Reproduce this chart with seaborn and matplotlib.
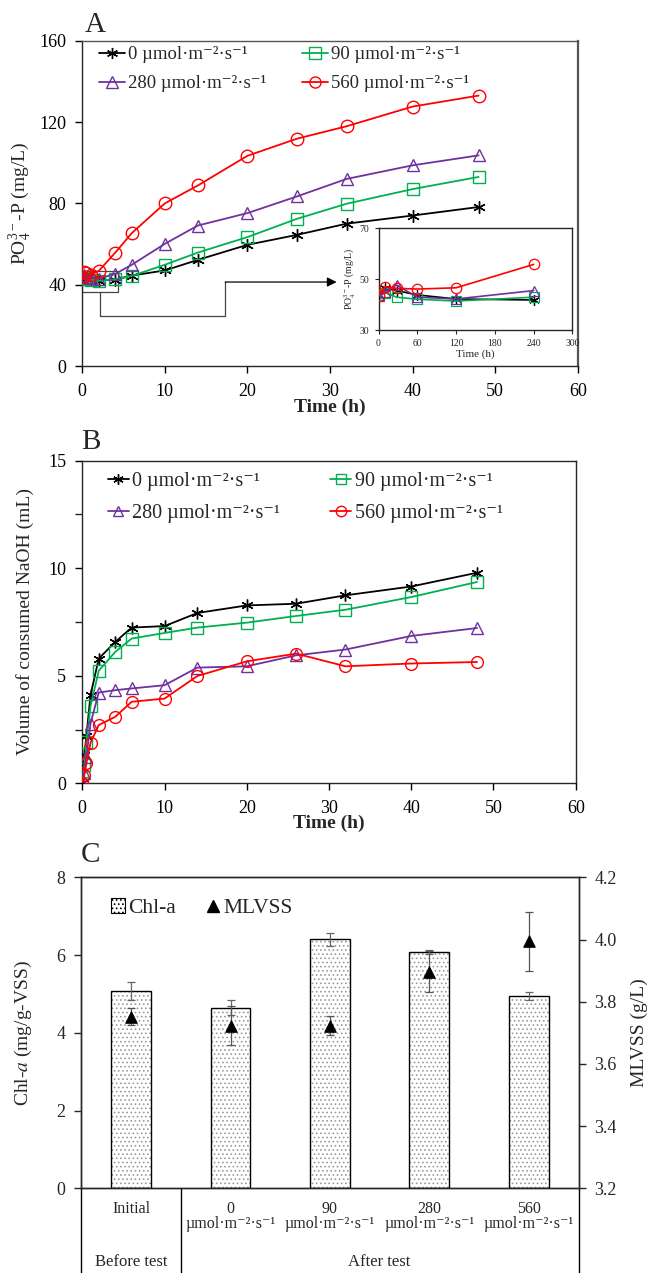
import numpy as np
import pandas as pd
import matplotlib
matplotlib.use("Agg")
import matplotlib.pyplot as plt
import matplotlib.colors as mcolors
from matplotlib.patches import Patch, Rectangle
from matplotlib.lines import Line2D
from matplotlib.ticker import MultipleLocator
import seaborn as sns

# ---------------- data ----------------
time_h = [0, 0.25, 0.5, 1, 2, 4, 6, 10, 14, 20, 26, 32, 40, 48]
series_labels = ["0 µmol·m⁻²·s⁻¹", "90 µmol·m⁻²·s⁻¹", "280 µmol·m⁻²·s⁻¹", "560 µmol·m⁻²·s⁻¹"]

# Panel A: PO4-P (mg/L)
po4_0 = [43.5, 44.0, 43.5, 43.0, 42.0, 42.5, 44.5, 47.0, 52.2, 59.6, 64.5, 70.0, 74.0, 78.2]
po4_90 = [43.5, 43.0, 43.5, 42.5, 41.9, 42.7, 44.3, 49.8, 55.8, 63.4, 72.4, 79.8, 87.0, 93.0]
po4_280 = [44.0, 45.0, 44.0, 43.5, 43.0, 45.3, 49.8, 60.1, 69.1, 75.2, 83.4, 92.0, 98.7, 103.6]
po4_560 = [44.0, 46.0, 45.5, 45.0, 46.8, 55.8, 65.4, 80.0, 88.8, 103.4, 111.8, 117.9, 127.6, 133.0]

# Inset: long-term PO4-P (mg/L)
inset_time_h = [0, 10, 28, 60, 120, 240]
inset_0 = [43.8, 46.4, 45.5, 43.8, 42.2, 41.8]
inset_90 = [43.8, 44.7, 42.9, 42.1, 41.4, 42.9]
inset_280 = [43.4, 45.1, 47.7, 42.9, 42.2, 45.5]
inset_560 = [43.4, 47.0, 46.4, 46.1, 46.6, 55.8]

# Panel B: consumed NaOH (mL)
naoh_0 = [0.0, 1.3, 2.2, 4.1, 5.8, 6.57, 7.24, 7.31, 7.92, 8.27, 8.35, 8.74, 9.15, 9.79]
naoh_90 = [0.0, 0.85, 1.93, 3.59, 5.23, 6.11, 6.73, 6.99, 7.24, 7.47, 7.78, 8.07, 8.66, 9.36]
naoh_280 = [0.0, 0.5, 1.24, 2.78, 4.22, 4.33, 4.41, 4.56, 5.38, 5.44, 5.95, 6.22, 6.85, 7.22]
naoh_560 = [0.0, 0.39, 0.93, 1.88, 2.71, 3.09, 3.79, 3.94, 4.99, 5.67, 6.03, 5.44, 5.57, 5.64]

# Panel C
c_categories = ["Initial", "0", "90", "280", "560"]
c_sublabels = ["", "µmol·m⁻²·s⁻¹", "µmol·m⁻²·s⁻¹", "µmol·m⁻²·s⁻¹", "µmol·m⁻²·s⁻¹"]
c_groups = ["Before test", "After test"]
chla = [5.08, 4.65, 6.41, 6.08, 4.95]
chla_err = [0.23, 0.19, 0.17, 0.06, 0.10]
mlvss = [3.752, 3.723, 3.723, 3.896, 3.995]
mlvss_err = [0.027, 0.062, 0.030, 0.066, 0.095]

# ---------------- style ----------------
sns.set_theme(style="ticks")
plt.rcParams["font.family"] = ["Liberation Serif", "DejaVu Serif"]
plt.rcParams["mathtext.fontset"] = "stix"
plt.rcParams["axes.linewidth"] = 1.0
plt.rcParams["xtick.direction"] = "out"
plt.rcParams["ytick.direction"] = "out"
plt.rcParams["hatch.linewidth"] = 0.7

colors = ["black", "#00B050", "#7030A0", "#FF0000"]
markers = [(6, 2, 0), "s", "^", "o"]

W, H = 649, 1273
fig = plt.figure(figsize=(W / 100, H / 100), dpi=100)


def fbox(l, r, t, b):
    return [l / W, 1 - b / H, (r - l) / W, (b - t) / H]


axA = fig.add_axes(fbox(82.3, 577.7, 40.7, 366))
axB = fig.add_axes(fbox(82.3, 575.7, 460.7, 783.3))
axC = fig.add_axes(fbox(81.4, 578.5, 877.3, 1188.3))
axI = fig.add_axes(fbox(378.5, 572.5, 228.3, 330))


def draw_lines(ax, x, ys, ms, mew, lw):
    handles = []
    for y, c, m, lab in zip(ys, colors, markers, series_labels):
        sns.lineplot(x=x, y=y, ax=ax, color=c, marker=m, markersize=ms,
                     markerfacecolor="none", markeredgecolor=c, markeredgewidth=mew,
                     linewidth=lw, label=lab, legend=False, zorder=3)
        handles.append(Line2D([0], [0], color=c, marker=m, markersize=ms - 1,
                              markerfacecolor="none", markeredgecolor=c,
                              markeredgewidth=mew, linewidth=lw))
    return handles


def main_ticks(ax):
    ax.tick_params(axis="x", labelsize=13, length=5, width=1, pad=7, colors="black")
    ax.tick_params(axis="y", labelsize=13, length=5, width=1, pad=6.5, colors="black")


po4_label = "PO$_4^{\\mathregular{3-}}$-P (mg/L)"

# ---------------- Panel A ----------------
hA = draw_lines(axA, time_h, [po4_0, po4_90, po4_280, po4_560], 9, 1.0, 1.3)
axA.set_xlim(0, 60)
axA.set_ylim(0, 160)
axA.xaxis.set_major_locator(MultipleLocator(10))
axA.yaxis.set_major_locator(MultipleLocator(40))
main_ticks(axA)
axA.set_xlabel("Time (h)", fontsize=14, fontweight="bold")
axA.set_ylabel(po4_label, fontsize=14)
axA.xaxis.set_label_coords(0.5, -0.1)
axA.yaxis.set_label_coords(-0.098, 0.5)
order = [0, 2, 1, 3]
axA.legend([hA[i] for i in order], [series_labels[i] for i in order], ncol=2,
           loc="upper left", bbox_to_anchor=(0.0, 1.035), frameon=False,
           fontsize=13.5, handlelength=1.4, handletextpad=0.15,
           columnspacing=1.9, labelspacing=0.62)
# zoom box and connector
axA.add_patch(Rectangle((0, 36.3), 4.27, 10.5, fill=False, edgecolor="#444444",
                        linewidth=0.9, zorder=1))
axA.plot([2.2, 2.2, 17.3, 17.3], [36.3, 24.5, 24.5, 41.3], color="#444444",
         linewidth=0.9, zorder=1)
axA.annotate("", xy=(30.8, 41.3), xytext=(17.3, 41.3),
             arrowprops=dict(arrowstyle="-|>", color="black", lw=0.9,
                             mutation_scale=14, shrinkA=0, shrinkB=0))
for s in ["right", "top"]:
    axA.spines[s].set_color("#555555")
axA.spines["right"].set_linewidth(1.6)
fig.text(95 / W, 1 - 25 / H, "A", fontsize=21, ha="center", va="center")

# ---------------- Inset ----------------
draw_lines(axI, inset_time_h, [inset_0, inset_90, inset_280, inset_560], 7.5, 0.9, 1.2)
axI.set_xlim(0, 300)
axI.set_ylim(30, 70)
axI.xaxis.set_major_locator(MultipleLocator(60))
axI.set_yticks([30, 50, 70])
axI.tick_params(labelsize=7, length=3, width=0.8)
axI.set_xlabel("Time (h)", fontsize=8, labelpad=1)
axI.set_ylabel(po4_label, fontsize=7, labelpad=1)
axI.set_facecolor("white")

# ---------------- Panel B ----------------
hB = draw_lines(axB, time_h, [naoh_0, naoh_90, naoh_280, naoh_560], 8.5, 1.0, 1.3)
axB.set_xlim(0, 60)
axB.set_ylim(0, 15)
axB.xaxis.set_major_locator(MultipleLocator(10))
axB.yaxis.set_major_locator(MultipleLocator(5))
axB.yaxis.set_minor_locator(MultipleLocator(2.5))
main_ticks(axB)
axB.tick_params(which="minor", length=5, width=1)
axB.set_xlabel("Time (h)", fontsize=14, fontweight="bold")
axB.set_ylabel("Volume of consumed NaOH (mL)", fontsize=14)
axB.xaxis.set_label_coords(0.5, -0.097)
axB.yaxis.set_label_coords(-0.098, 0.5)
axB.legend([hB[i] for i in order], [series_labels[i] for i in order], ncol=2,
           loc="upper left", bbox_to_anchor=(0.015, 1.02), frameon=False,
           fontsize=14.5, handlelength=1.05, handletextpad=0.15,
           columnspacing=2.5, labelspacing=0.6)
fig.text(91 / W, 1 - 442 / H, "B", fontsize=21, ha="center", va="center")

# ---------------- Panel C ----------------
dfC = pd.DataFrame({"cat": c_categories, "chla": chla})
sns.barplot(data=dfC, x="cat", y="chla", ax=axC, color="white", width=0.4,
            edgecolor="black", linewidth=1.0, errorbar=None, zorder=2)
hatch_rgba = mcolors.to_rgba("#9a9a9a")
for p in axC.patches:
    p.set_hatch("....")
    p._hatch_color = hatch_rgba
axC.errorbar(np.arange(len(chla)), chla, yerr=chla_err, fmt="none",
             ecolor="#666666", elinewidth=0.9, capsize=3, capthick=0.9, zorder=3)
axC.set_xlim(-0.5, 4.5)
axC.set_ylim(0, 8)
axC.yaxis.set_major_locator(MultipleLocator(2))
axC.tick_params(axis="y", labelsize=13, length=5, width=1, pad=6.5)
axC.tick_params(axis="x", length=0, labelbottom=False)
axC.set_xlabel("")
axC.set_ylabel("Chl-$\\mathit{a}$ (mg/g-VSS)", fontsize=14)
axC.yaxis.set_label_coords(-0.096, 0.5)

axC2 = axC.twinx()
sns.scatterplot(x=np.arange(len(mlvss)), y=mlvss, ax=axC2, marker="^", s=70,
                color="black", edgecolor="black", zorder=4, legend=False)
axC2.errorbar(np.arange(len(mlvss)), mlvss, yerr=mlvss_err, fmt="none",
              ecolor="#555555", elinewidth=0.9, capsize=3, capthick=0.9, zorder=3)
axC2.set_ylim(3.2, 4.2)
axC2.set_yticks([3.2, 3.4, 3.6, 3.8, 4.0, 4.2])
axC2.set_yticklabels(["3.2", "3.4", "3.6", "3.8", "4.0", "4.2"])
axC2.tick_params(axis="y", labelsize=13, length=5, width=1, pad=6.5)
axC2.set_ylabel("MLVSS (g/L)", fontsize=14)
axC2.yaxis.set_label_coords(1.104, 0.5)
axC2.set_xlim(-0.5, 4.5)

trans = matplotlib.transforms.blended_transform_factory(axC.transData, axC.transAxes)
for i, (c, s) in enumerate(zip(c_categories, c_sublabels)):
    axC.text(i, -0.066, c, transform=trans, ha="center", va="center", fontsize=11.5)
    if s:
        axC.text(i, -0.116, s, transform=trans, ha="center", va="center", fontsize=11.5)
axC.text(0, -0.237, c_groups[0], transform=trans, ha="center", va="center", fontsize=12)
axC.text(2.5, -0.237, c_groups[1], transform=trans, ha="center", va="center", fontsize=12)
for xv in [-0.5, 0.5, 4.5]:
    axC.plot([xv, xv], [0, -0.28], transform=trans, color="black", linewidth=1.0,
             clip_on=False)

legC = [Patch(facecolor="white", edgecolor="black", hatch="....", linewidth=0.8),
        Line2D([0], [0], marker="^", color="black", linestyle="none", markersize=8)]
axC.legend(legC, ["Chl-a", "MLVSS"], loc="upper left", bbox_to_anchor=(0.02, 0.995),
           ncol=2, frameon=False, fontsize=15.5, handlelength=0.65, handleheight=0.65,
           handletextpad=0.15, columnspacing=1.4)
fig.text(91 / W, 1 - 855 / H, "C", fontsize=21, ha="center", va="center")

fig.savefig("out.png", dpi=100)
